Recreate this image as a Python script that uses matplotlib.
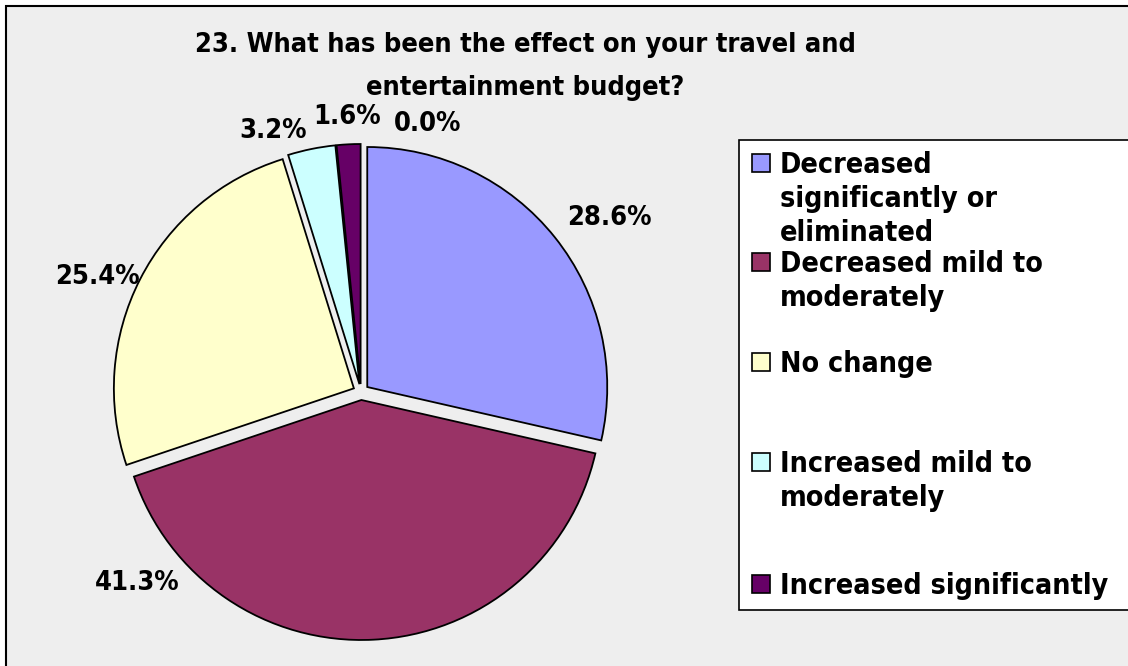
import matplotlib.pyplot as plt
from matplotlib.patches import Rectangle

W, H = 1128, 666

title_lines = ["23. What has been the effect on your travel and",
               "entertainment budget?"]
categories = ["Decreased\nsignificantly or\neliminated",
              "Decreased mild to\nmoderately",
              "No change",
              "Increased mild to\nmoderately",
              "Increased significantly",
              ""]
values = [28.6, 41.3, 25.4, 3.2, 1.6, 0.0]
colors = ["#9999FF", "#993366", "#FFFFCC", "#CCFFFF", "#660066", "#FFFFFF"]

# where each percentage label sits (pixels from top-left)
label_pos = [(609, 218), (137, 583), (97, 277), (273, 131), (347, 117), (428, 124)]
# legend rows: centre y of the first line of each entry
legend_rows = [163, 262, 362, 462, 584]

bg = "#EEEEEE"
plt.rcParams['font.family'] = ['DejaVu Sans']
bold = dict(fontweight="bold", fontstretch="condensed")

fig = plt.figure(figsize=(W / 100, H / 100), dpi=100)
fig.patch.set_facecolor("white")
ax = fig.add_axes([0, 0, 1, 1])

def py(y):
    return H - y

# chart area with its outline
ax.add_patch(Rectangle((6, py(H + 10)), W + 10, H + 4, facecolor=bg,
                       edgecolor="black", lw=1.5, zorder=0))

# pie, every slice pulled out a few pixels
wedges, _ = ax.pie(values, colors=colors, startangle=90, counterclock=False,
                   center=(361, py(392)), radius=240,
                   explode=[8] * len(values),
                   wedgeprops=dict(edgecolor="black", linewidth=1.3),
                   frame=True)
for w, v in zip(wedges, values):
    if v == 0:
        w.set_linewidth(0)
        w.set_facecolor("none")
ax.set_xlim(0, W)
ax.set_ylim(0, H)
ax.set_aspect("equal")
ax.axis("off")

for (x, y), v in zip(label_pos, values):
    ax.text(x, py(y), f"{v:.1f}%", ha="center", va="center",
            fontsize=19.5, **bold)

for i, line in enumerate(title_lines):
    ax.text(525, py(45 + 43 * i), line, ha="center", va="center",
            fontsize=19.5, **bold)

# legend box
ax.add_patch(Rectangle((739, py(610)), W, 470, facecolor="white",
                       edgecolor="black", lw=1.2, zorder=3))
for lab, col, y in zip(categories, colors, legend_rows):
    ax.add_patch(Rectangle((752, py(y + 9)), 18, 18, facecolor=col,
                           edgecolor="black", lw=1.2, zorder=4))
    for k, part in enumerate(lab.split("\n")):
        ax.text(780, py(y + 10 + 34 * k), part, ha="left", va="baseline",
                fontsize=20.5, zorder=5, **bold)

fig.savefig("out.png", dpi=100, facecolor=fig.get_facecolor())
